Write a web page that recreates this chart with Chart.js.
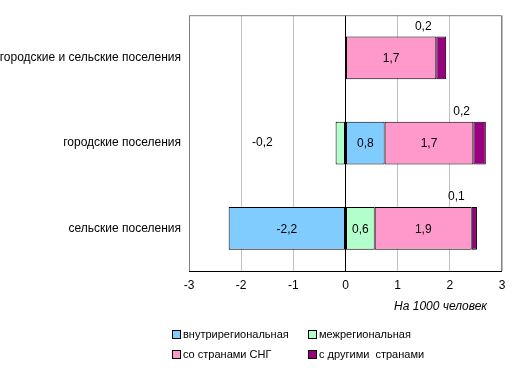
<!DOCTYPE html>
<html lang="ru">
  <head>
    <meta charset="UTF-8" />
    <title>Миграционный прирост</title>
    <script src="https://cdn.jsdelivr.net/npm/chart.js@4.4.1/dist/chart.umd.min.js"></script>
    <style>
      body {
        margin: 0;
        background: #fff;
        font-family: "Liberation Sans", Arial, sans-serif;
      }
      .wrap {
        position: relative;
        width: 514px;
        height: 371px;
      }
      #legend {
        position: absolute;
        left: 172px;
        top: 328px;
        display: grid;
        grid-template-columns: 136px 150px;
        row-gap: 8px;
        font-size: 11px;
        color: #000;
      }
      #legend span.box {
        display: inline-block;
        width: 7px;
        height: 7px;
        border: 1px solid #000;
        margin-right: 2px;
        vertical-align: -1px;
      }
    </style>
  </head>
  <body>
    <div class="wrap">
      <canvas id="chart" width="514" height="371"></canvas>
      <div id="legend"></div>
    </div>

    <script>
      const categories = ["городские и сельские поселения", "городские поселения", "сельские поселения"];
      const intraRegional = [0, 0.75, -2.24];
      const interRegional = [0, -0.19, 0.56];
      const cisCountries = [1.74, 1.7, 1.86];
      const otherCountries = [0.19, 0.24, 0.1];
      const seriesNames = ["внутрирегиональная", "межрегиональная", "со странами СНГ", "с другими  странами"];
      const xTicks = [-3, -2, -1, 0, 1, 2, 3];

      const colors = ["#80CCFF", "#B3FFCC", "#FF99CC", "#990080"];
      const values = [intraRegional, interRegional, cisCountries, otherCountries];

      const fmt = (v) => v.toFixed(1).replace(".", ",");

      // labels: big segments in the middle, small ones outside like Excel did
      const barLabels = {
        id: "barLabels",
        afterDatasetsDraw(chart) {
          const ctx = chart.ctx;
          ctx.save();
          ctx.font = "12px 'Liberation Sans', Arial, sans-serif";
          ctx.fillStyle = "#000";
          ctx.textAlign = "center";
          ctx.textBaseline = "middle";
          chart.data.datasets.forEach((ds, i) => {
            chart.getDatasetMeta(i).data.forEach((bar, j) => {
              const v = ds.data[j];
              if (v === 0) return;
              const cx = (bar.x + bar.base) / 2;
              if (Math.abs(v) >= 0.5) {
                ctx.fillText(fmt(v), cx, bar.y + 1);
              } else if (v < 0) {
                ctx.fillText(fmt(v), cx - 78, bar.y);
              } else {
                ctx.fillText(fmt(v), cx - 18, bar.y - bar.height / 2 - 10);
              }
            });
          });
          ctx.restore();
        },
      };

      // plot border + axis title
      const frame = {
        id: "frame",
        afterDraw(chart) {
          const { ctx, chartArea: a } = chart;
          ctx.save();
          ctx.strokeStyle = "#808080";
          ctx.lineWidth = 1;
          ctx.beginPath();
          ctx.moveTo(a.left + 0.5, a.bottom);
          ctx.lineTo(a.left + 0.5, a.top + 0.5);
          ctx.lineTo(a.right - 0.5, a.top + 0.5);
          ctx.lineTo(a.right - 0.5, a.bottom);
          ctx.stroke();
          ctx.strokeStyle = "#000";
          ctx.beginPath();
          ctx.moveTo(a.left, a.bottom + 0.5);
          ctx.lineTo(a.right, a.bottom + 0.5);
          ctx.stroke();
          ctx.font = "italic 12px 'Liberation Sans', Arial, sans-serif";
          ctx.fillStyle = "#000";
          ctx.textAlign = "right";
          ctx.textBaseline = "middle";
          ctx.fillText("На 1000 человек", a.right - 15, a.bottom + 36);
          ctx.restore();
        },
      };

      const chart = new Chart(document.getElementById("chart"), {
        type: "bar",
        data: {
          labels: categories,
          datasets: seriesNames.map((name, i) => ({
            label: name,
            data: values[i],
            backgroundColor: colors[i],
            borderColor: "#000",
            borderWidth: 1,
            borderSkipped: false,
            barPercentage: 0.5,
            categoryPercentage: 1,
          })),
        },
        options: {
          indexAxis: "y",
          responsive: false,
          animation: false,
          layout: { padding: { top: 15, right: 12, left: 0, bottom: 0 } },
          plugins: { legend: { display: false }, tooltip: { enabled: false } },
          scales: {
            x: {
              stacked: true,
              min: -3,
              max: 3,
              afterBuildTicks: (s) => {
                s.ticks = xTicks.map((v) => ({ value: v }));
              },
              afterFit: (s) => {
                s.height = 100;
              },
              grid: {
                drawTicks: false,
                color: (c) => (c.tick && c.tick.value === 0 ? "#000" : "#c0c0c0"),
              },
              border: { display: false },
              ticks: {
                padding: 7,
                color: "#000",
                font: { size: 12, family: "'Liberation Sans', Arial, sans-serif" },
              },
            },
            y: {
              stacked: true,
              afterFit: (s) => {
                s.width = 189;
              },
              grid: { display: false, drawTicks: false },
              border: { display: false },
              ticks: {
                padding: 8,
                color: "#000",
                font: { size: 12, family: "'Liberation Sans', Arial, sans-serif" },
              },
            },
          },
        },
        plugins: [barLabels, frame],
      });

      // legend in two columns
      const legend = document.getElementById("legend");
      chart.data.datasets.forEach((ds) => {
        const item = document.createElement("div");
        item.innerHTML = '<span class="box" style="background:' + ds.backgroundColor + '"></span>' + ds.label.replace(/  /g, "&nbsp; ");
        legend.appendChild(item);
      });
    </script>
  </body>
</html>
